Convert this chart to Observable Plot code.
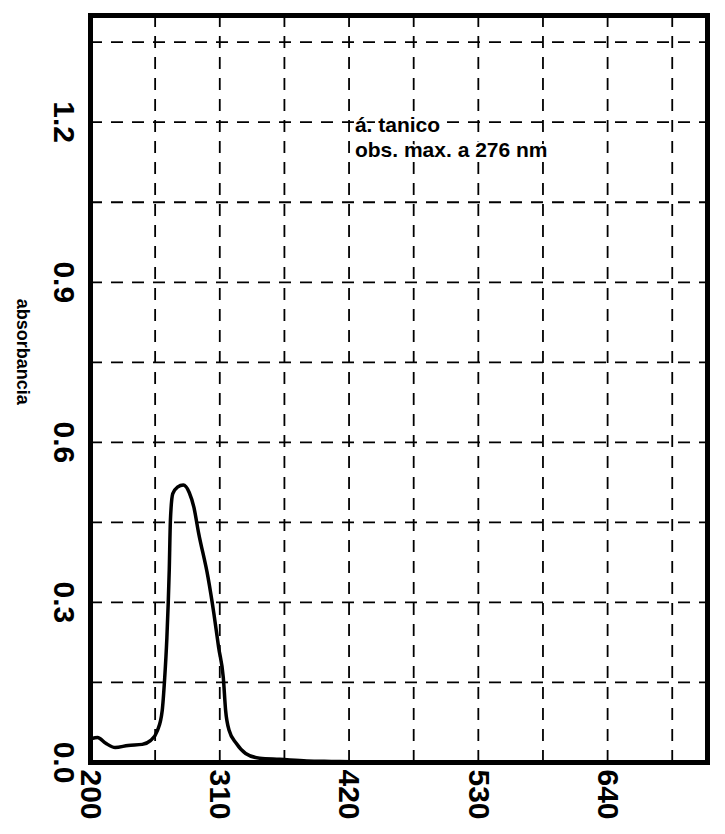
<!DOCTYPE html>
<html>
<head>
<meta charset="utf-8">
<script src="https://cdn.jsdelivr.net/npm/d3@7"></script>
<script src="https://cdn.jsdelivr.net/npm/@observablehq/plot@0.6"></script>
<style>
  html, body { margin: 0; padding: 0; background: #fff; }
</style>
</head>
<body>
<div id="chart"></div>
<script>
// Spectrum (wavelength in nm, absorbance)
const wavelength = [201, 206, 213, 221, 232, 244, 251, 257, 261, 263, 265, 267, 268, 270, 274, 279, 284, 288, 292, 300, 305, 309, 313, 315, 318, 324, 332, 344, 361, 384, 405, 431];
const absorbance = [0.045, 0.047, 0.036, 0.028, 0.032, 0.034, 0.041, 0.06, 0.097, 0.154, 0.234, 0.36, 0.454, 0.504, 0.516, 0.52, 0.506, 0.478, 0.43, 0.347, 0.279, 0.216, 0.159, 0.097, 0.06, 0.036, 0.017, 0.008, 0.006, 0.003, 0.002, 0.001];

// Axes
const xTicks = [200, 310, 420, 530, 640];
const yTicks = [0, 0.3, 0.6, 0.9, 1.2];
const xGrid = [255, 310, 365, 420, 475, 530, 585, 640, 695];
const yGrid = [0.15, 0.3, 0.45, 0.6, 0.75, 0.9, 1.05, 1.2, 1.35];
const xDomain = [200, 725];
const yDomain = [0, 1.4];

// Texts
const yLabel = ["absorbancia"];
const noteLines = ["á. tanico", "obs. max. a 276 nm"];
const noteWavelength = [425, 425];
const noteAbsorbance = [1.195, 1.148];
const yLabelAbsorbance = 0.77;

const data = wavelength.map((w, i) => ({w, a: absorbance[i]}));

const gridStyle = {stroke: "black", strokeOpacity: 1, strokeWidth: 1.8, strokeDasharray: "12,9"};

const chart = Plot.plot({
  width: 725,
  height: 834,
  marginLeft: 90,
  marginRight: 18,
  marginTop: 15,
  marginBottom: 72,
  x: {domain: xDomain},
  y: {domain: yDomain},
  style: {fontFamily: "'Liberation Sans', Arial, sans-serif", color: "black", background: "white"},
  marks: [
    Plot.gridX(xGrid, gridStyle),
    Plot.gridY(yGrid, gridStyle),
    Plot.line(data, {x: "w", y: "a", stroke: "black", strokeWidth: 3.5, curve: "monotone-x", strokeLinejoin: "round"}),
    Plot.frame({stroke: "black", strokeWidth: 5}),
    Plot.axisX(xTicks, {tickSize: 0, tickRotate: 90, textAnchor: "start", lineAnchor: "middle", tickPadding: 7, fontSize: 30, fontWeight: "bold", label: null}),
    Plot.axisY(yTicks, {tickSize: 0, tickRotate: 90, tickFormat: d3.format(".1f"), tickPadding: 15, fontSize: 30, fontWeight: "bold", label: null}),
    Plot.text(yLabel, {x: xDomain[0], y: yLabelAbsorbance, dx: -68, rotate: 90, fontSize: 18, fontWeight: "bold"}),
    Plot.text(noteLines, {x: (d, i) => noteWavelength[i], y: (d, i) => noteAbsorbance[i], textAnchor: "start", fontSize: 21, fontWeight: "bold", fill: "black", stroke: "white", strokeWidth: 4})
  ]
});

document.getElementById("chart").appendChild(chart);
</script>
</body>
</html>
